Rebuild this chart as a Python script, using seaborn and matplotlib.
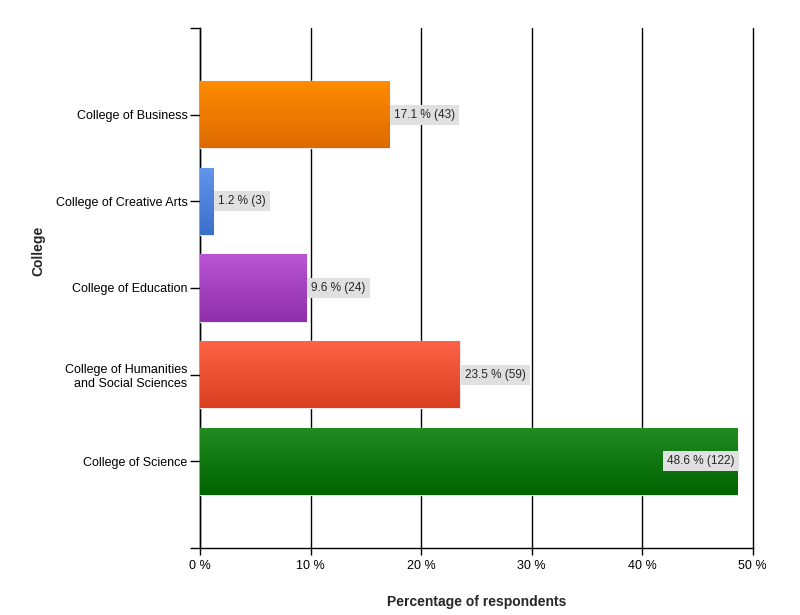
import numpy as np
import pandas as pd
import matplotlib
matplotlib.use("Agg")
import matplotlib.pyplot as plt
import matplotlib.colors as mcolors
import seaborn as sns

colleges = ["College of Business", "College of Creative Arts", "College of Education",
            "College of Humanities\nand Social Sciences", "College of Science"]
percent = [17.1, 1.2, 9.6, 23.5, 48.6]
counts = [43, 3, 24, 59, 122]
top_colors = ["#FF8C00", "#6495ED", "#BA55D3", "#FF6347", "#228B22"]
bottom_colors = ["#DD6A00", "#3A6FCB", "#8F2FAA", "#DA3F20", "#006400"]
xticks = [0, 10, 20, 30, 40, 50]

sns.set_theme(style="white")
plt.rcParams['font.family'] = ['Liberation Sans', 'DejaVu Sans']

df = pd.DataFrame({"College": colleges, "Percent": percent})
fig = plt.figure(figsize=(8, 6.15), dpi=100)
ax = fig.add_axes([0.25, 0.109, 0.691, 0.8455])

sns.barplot(data=df, y="College", x="Percent", hue="College", palette=top_colors,
            orient="h", width=0.78, legend=False, ax=ax, zorder=3,
            edgecolor="#E8E8E8", linewidth=1)

# gradient fill on each bar
for patch, c1, c2 in zip(ax.patches, top_colors, bottom_colors):
    x0, y0 = patch.get_x(), patch.get_y()
    w, h = patch.get_width(), patch.get_height()
    cmap = mcolors.LinearSegmentedColormap.from_list("g", [c1, c2])
    grad = np.linspace(0, 1, 64).reshape(-1, 1)
    im = ax.imshow(grad, cmap=cmap, aspect="auto", extent=[x0, x0 + w, y0 + h, y0],
                   zorder=3.5, interpolation="bilinear")
    im.set_clip_path(patch)
ax.set_xlim(0, 50)
ax.set_ylim(5, -1)

for i, (p, n) in enumerate(zip(percent, counts)):
    label = f"{p} % ({n})"
    if p > 40:
        ax.text(p - 0.25, i, label, ha="right", va="center", fontsize=8.5, zorder=5,
                bbox=dict(boxstyle="square,pad=0.35", fc="#E0E0E0", ec="none"))
    else:
        ax.text(p + 0.45, i, label, ha="left", va="center", fontsize=8.5, zorder=5,
                bbox=dict(boxstyle="square,pad=0.35", fc="#E0E0E0", ec="none"))

# vertical gridlines
for t in xticks:
    ax.axvline(t, color="black", linewidth=1, zorder=1, clip_on=False)

ax.set_xticks(xticks)
ax.set_xticklabels([f"{t} %" for t in xticks], fontsize=9)
ax.set_yticks([-1] + list(range(len(colleges))) + [5])
ax.set_yticklabels([""] + colleges + [""], fontsize=9)
ax.grid(False)
for s in ["top", "right"]:
    ax.spines[s].set_visible(False)
for s in ["left", "bottom"]:
    ax.spines[s].set_color("black")
    ax.spines[s].set_linewidth(1)
ax.tick_params(axis="both", which="both", direction="out", length=7, width=1,
               color="black", labelcolor="black", left=True, bottom=True, pad=2)
ax.tick_params(axis="x", length=5, pad=4)
ax.set_xlabel("Percentage of respondents", fontsize=10, fontweight="bold", labelpad=16)
ax.set_ylabel("College", fontsize=10, fontweight="bold")
ax.yaxis.set_label_coords(-0.279, 0.571)

fig.savefig("out.png", dpi=100)
